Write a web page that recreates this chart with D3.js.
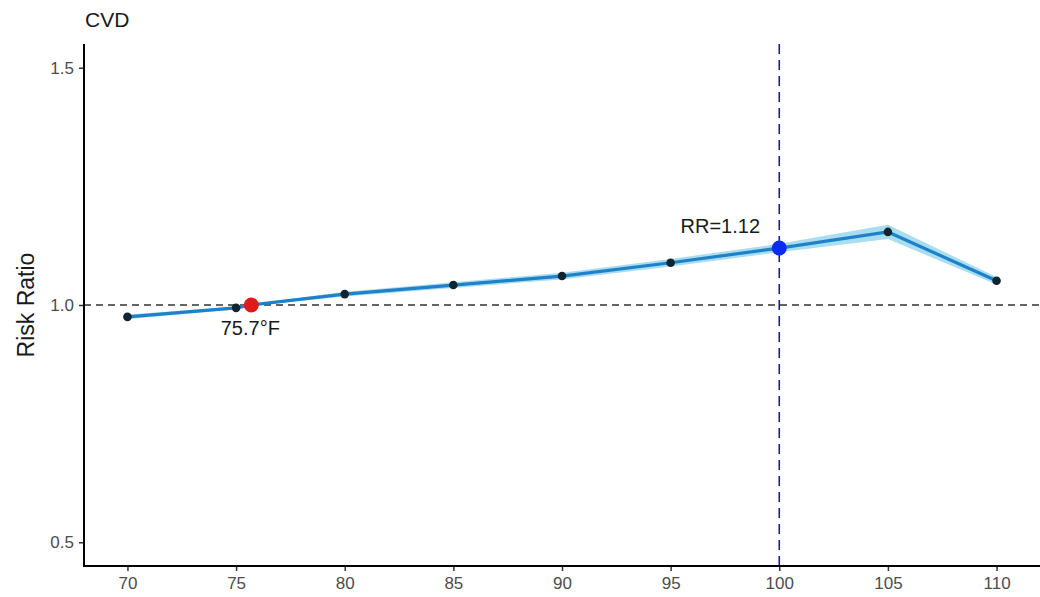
<!DOCTYPE html>
<html><head><meta charset="utf-8">
<script src="https://cdn.jsdelivr.net/npm/d3@7"></script>
<style>body{margin:0;background:#fff}svg{display:block}text{font-family:"Liberation Sans",Arial,sans-serif}</style>
</head><body>
<svg id="c" width="1040" height="597"></svg>
<script>
const temps = [70, 75, 80, 85, 90, 95, 100, 105, 110];
const rr    = [0.975, 0.994, 1.023, 1.042, 1.061, 1.089, 1.120, 1.154, 1.051];
const lower = [0.970, 0.991, 1.018, 1.036, 1.054, 1.081, 1.111, 1.139, 1.043];
const upper = [0.980, 0.997, 1.028, 1.048, 1.068, 1.097, 1.129, 1.169, 1.059];
const refPoint = {x: 75.7, y: 1.0, label: "75.7°F"};
const hiPoint = {x: 100, y: 1.12, label: "RR=1.12"};
const xTicks = [70, 75, 80, 85, 90, 95, 100, 105, 110];
const yTicks = [0.5, 1.0, 1.5];
const title = "CVD", yTitle = "Risk Ratio";

const svg = d3.select("#c");
const L = 84, R = 1040, T = 44, B = 566;
const x = d3.scaleLinear().domain([68, 112]).range([L, R]);
const y = d3.scaleLinear().domain([0.45, 1.55]).range([B, T]);

const pts = temps.map((t, i) => ({x: t, y: rr[i], lo: lower[i], hi: upper[i]}));
const bandPts = [...pts.slice(0, 2), {x: refPoint.x, y: refPoint.y, lo: refPoint.y - 0.002, hi: refPoint.y + 0.002}, ...pts.slice(2)];
svg.append("path").datum(bandPts)
  .attr("d", d3.area().x(d => x(d.x)).y0(d => y(d.lo)).y1(d => y(d.hi)))
  .attr("fill", "#a9def0");

svg.append("line").attr("x1", L).attr("x2", R).attr("y1", y(1)).attr("y2", y(1))
  .attr("stroke", "#333").attr("stroke-width", 1.4).attr("stroke-dasharray", "7,5");
svg.append("line").attr("x1", x(hiPoint.x)).attr("x2", x(hiPoint.x)).attr("y1", T).attr("y2", B)
  .attr("stroke", "#1c1c8f").attr("stroke-width", 1.6).attr("stroke-dasharray", "10,6");

svg.append("path").datum(bandPts)
  .attr("d", d3.line().x(d => x(d.x)).y(d => y(d.y)))
  .attr("fill", "none").attr("stroke", "#1f82c8").attr("stroke-width", 3.2);

svg.selectAll("circle.p").data(pts).join("circle").attr("class", "p")
  .attr("cx", d => x(d.x)).attr("cy", d => y(d.y)).attr("r", 4.3).attr("fill", "#102530");

svg.append("circle").attr("cx", x(refPoint.x)).attr("cy", y(refPoint.y)).attr("r", 7.5).attr("fill", "#e01b1b");
svg.append("circle").attr("cx", x(hiPoint.x)).attr("cy", y(hiPoint.y)).attr("r", 7.5).attr("fill", "#0a2cf5");

svg.append("text").attr("x", x(refPoint.x) - 1).attr("y", y(refPoint.y) + 30).attr("text-anchor", "middle")
  .attr("font-size", 20).attr("fill", "#1a1a1a").text(refPoint.label);
svg.append("text").attr("x", x(hiPoint.x) - 59).attr("y", y(hiPoint.y) - 15).attr("text-anchor", "middle")
  .attr("font-size", 20).attr("fill", "#1a1a1a").text(hiPoint.label);

const xa = svg.append("g").attr("transform", `translate(0,${B})`)
  .call(d3.axisBottom(x).tickValues(xTicks).tickSize(5).tickPadding(6).tickFormat(d3.format("d")));
const ya = svg.append("g").attr("transform", `translate(${L},0)`)
  .call(d3.axisLeft(y).tickValues(yTicks).tickSize(5).tickPadding(5).tickFormat(d3.format(".1f")));
[xa, ya].forEach(g => {
  g.select(".domain").remove();
  g.selectAll(".tick line").attr("stroke", "#333").attr("stroke-width", 1.5);
  g.selectAll(".tick text").attr("fill", "#4d4d4d").attr("font-size", 17).style("font-family", "'Liberation Sans',Arial,sans-serif");
});
svg.append("line").attr("x1", L).attr("x2", R).attr("y1", B).attr("y2", B).attr("stroke", "#000").attr("stroke-width", 2);
svg.append("line").attr("x1", L).attr("x2", L).attr("y1", T).attr("y2", B + 1).attr("stroke", "#000").attr("stroke-width", 2);

svg.append("text").attr("x", 85).attr("y", 27).attr("font-size", 21).attr("fill", "#1a1a1a").text(title);
svg.append("text").attr("transform", `translate(34,${(T + B) / 2}) rotate(-90)`).attr("text-anchor", "middle")
  .attr("font-size", 23).attr("fill", "#1a1a1a").text(yTitle);
</script>
</body></html>
